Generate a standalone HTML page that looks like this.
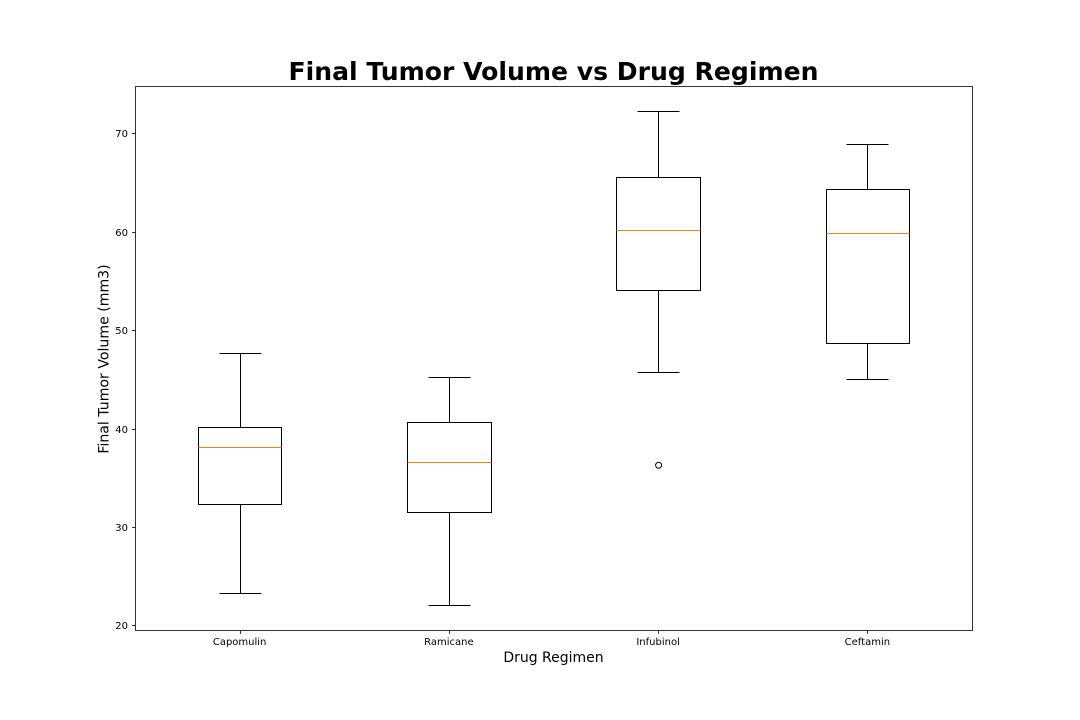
<!DOCTYPE html>
<html lang="en">
<head>
<meta charset="utf-8">
<title>Final Tumor Volume vs Drug Regimen</title>
<style>
html,body{margin:0;padding:0;background:#fff;}
svg{display:block;font-family:"DejaVu Sans",sans-serif;}
text{fill:#000;}
</style>
</head>
<body>
<svg id="chart" xmlns="http://www.w3.org/2000/svg" width="1080" height="720" viewBox="0 0 1080 720">
<rect x="0" y="0" width="1080" height="720" fill="#fff"/>
<text x="553.5" y="80" text-anchor="middle" font-size="25.1" font-weight="700">Final Tumor Volume vs Drug Regimen</text>
<text x="553.5" y="662" text-anchor="middle" font-size="14">Drug Regimen</text>
<text transform="translate(108.5 359) rotate(-90)" text-anchor="middle" font-size="14.1">Final Tumor Volume (mm3)</text>
<g id="marks"></g>
<rect x="135.5" y="86.5" width="837" height="544" fill="none" stroke="#000" stroke-width="0.8"/>
</svg>
<script>
const categories = ["Capomulin", "Ramicane", "Infubinol", "Ceftamin"];
const whiskerLow = [23.34, 22.05, 45.7, 45.0];
const quartile1 = [32.38, 31.56, 54.05, 48.72];
const medians = [38.13, 36.56, 60.17, 59.85];
const quartile3 = [40.16, 40.66, 65.53, 64.3];
const whiskerHigh = [47.69, 45.22, 72.23, 68.92];
const outliers = [[], [], [36.32], []];
const yTicks = [20, 30, 40, 50, 60, 70];

const plotLeft = 135, plotRight = 972, plotTop = 86.4, plotBottom = 630;
const allValues = whiskerLow.concat(whiskerHigh, outliers.flat());
const dataMin = Math.min.apply(null, allValues);
const dataMax = Math.max.apply(null, allValues);
const yPad = (dataMax - dataMin) * 0.05;
const yMin = dataMin - yPad, yMax = dataMax + yPad;

function xScale(p) {
  return plotLeft + (p + 0.5) / categories.length * (plotRight - plotLeft);
}
function yScale(v) {
  return plotBottom - (v - yMin) / (yMax - yMin) * (plotBottom - plotTop);
}
function snap(v) {
  return Math.round(v) + 0.5;
}
const marks = document.getElementById('marks');
const NS = 'http://www.w3.org/2000/svg';
function line(parent, x1, y1, x2, y2, color, width) {
  const el = document.createElementNS(NS, 'line');
  el.setAttribute('x1', x1);
  el.setAttribute('y1', y1);
  el.setAttribute('x2', x2);
  el.setAttribute('y2', y2);
  el.setAttribute('stroke', color);
  el.setAttribute('stroke-width', width);
  parent.appendChild(el);
  return el;
}
function label(parent, x, y, anchor, str) {
  const el = document.createElementNS(NS, 'text');
  el.setAttribute('x', x);
  el.setAttribute('y', y);
  el.setAttribute('text-anchor', anchor);
  el.setAttribute('font-size', '10');
  el.textContent = str;
  parent.appendChild(el);
  return el;
}

yTicks.forEach(function (t) {
  const y = snap(yScale(t));
  const tick = line(marks, plotLeft - 3, y, plotLeft + 0.5, y, '#000', 0.8);
  
  
  const txt = label(marks, plotLeft - 7, y + 3.5, 'end', String(t));
  
  
});

const unit = (plotRight - plotLeft) / categories.length;
categories.forEach(function (name, i) {
  const cx = xScale(i);
  const xs = snap(cx);
  const tick = line(marks, xs, plotBottom + 0.5, xs, plotBottom + 4, '#000', 0.8);
  
  
  const txt = label(marks, cx, plotBottom + 15, 'middle', name);
  
  

  const g = document.createElementNS(NS, 'g');
  
  
  marks.appendChild(g);

  const left = snap(cx - unit * 0.2), right = snap(cx + unit * 0.2);
  const capL = snap(cx - unit * 0.1), capR = snap(cx + unit * 0.1);
  const yQ1 = snap(yScale(quartile1[i])), yQ3 = snap(yScale(quartile3[i]));
  const yLow = snap(yScale(whiskerLow[i])), yHigh = snap(yScale(whiskerHigh[i]));
  const yMed = snap(yScale(medians[i]));

  const wl = line(g, xs, yQ1, xs, yLow, '#000', 1);
  
  
  const wh = line(g, xs, yQ3, xs, yHigh, '#000', 1);
  
  
  const cl = line(g, capL, yLow, capR, yLow, '#000', 1);
  
  
  const ch = line(g, capL, yHigh, capR, yHigh, '#000', 1);
  
  

  const box = document.createElementNS(NS, 'rect');
  box.setAttribute('x', left);
  box.setAttribute('y', yQ3);
  box.setAttribute('width', right - left);
  box.setAttribute('height', yQ1 - yQ3);
  box.setAttribute('fill', 'none');
  box.setAttribute('stroke', '#000');
  box.setAttribute('stroke-width', 1);
  
  
  g.appendChild(box);

  const med = line(g, left, yMed, right, yMed, '#ff7f0e', 1);
  
  

  outliers[i].forEach(function (v) {
    const c = document.createElementNS(NS, 'circle');
    c.setAttribute('cx', cx + 0.5);
    c.setAttribute('cy', yScale(v) + 0.5);
    c.setAttribute('r', 3);
    c.setAttribute('fill', 'none');
    c.setAttribute('stroke', '#000');
    c.setAttribute('stroke-width', 1);
    
    
    g.appendChild(c);
  });
});
</script>
</body>
</html>
